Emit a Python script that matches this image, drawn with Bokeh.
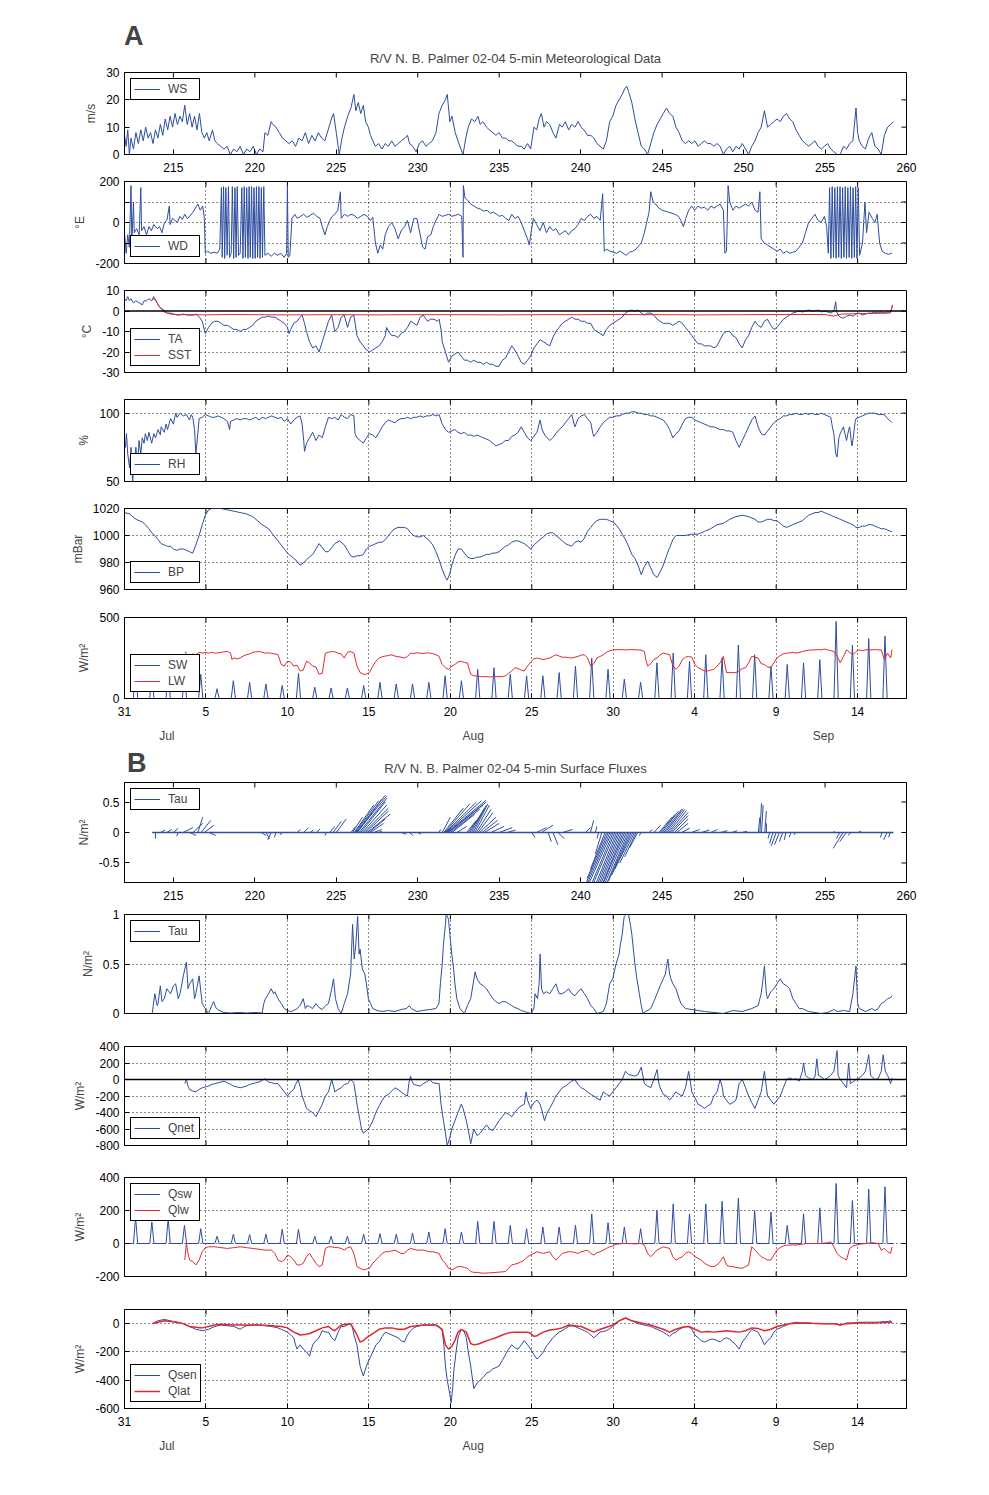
from bokeh.plotting import figure
from bokeh.layouts import column
from bokeh.models import LinearAxis, FixedTicker, Range1d, Span, Legend, LegendItem, Label
from bokeh.embed import file_html
from bokeh.resources import INLINE

FONT = "Liberation Sans"
BLUE = "#2D4D9E"
RED = "#E0292F"

# ---------------- axes / labels ----------------
X_RANGE = (212, 260)
YEARDAY_TICKS = [215, 220, 225, 230, 235, 240, 245, 250, 255, 260]
YEARDAY_LABELS = ["215", "220", "225", "230", "235", "240", "245", "250", "255", "260"]
DATE_TICKS = [212, 217, 222, 227, 232, 237, 242, 247, 252, 257]
DATE_LABELS = ["31", "5", "10", "15", "20", "25", "30", "4", "9", "14"]
MONTH_POS = [214.6, 233.4, 254.9]
MONTH_LABELS = ["Jul", "Aug", "Sep"]
TITLE_A = "R/V N. B. Palmer 02-04 5-min Meteorological Data"
TITLE_B = "R/V N. B. Palmer 02-04 5-min Surface Fluxes"

# ---------------- data (yearday, value) ----------------
WS = [(212.0, 7), (212.1, 3), (212.2, 9), (212.3, 0), (212.4, 6), (212.55, 2), (212.7, 8), (212.85, 4), (213.0, 9), (213.15, 5),
      (213.3, 10), (213.45, 6), (213.6, 8), (213.75, 4), (213.9, 9), (214.05, 6), (214.2, 11), (214.35, 7), (214.5, 13), (214.65, 9),
      (214.8, 14), (214.95, 10), (215.1, 15), (215.25, 11), (215.4, 14), (215.55, 12), (215.7, 18), (215.85, 11), (216.0, 15), (216.15, 10),
      (216.3, 14), (216.45, 9), (216.6, 15), (216.75, 8), (216.9, 6), (217.05, 8), (217.2, 5), (217.4, 9), (217.55, 5), (217.7, 4),
      (217.9, 3), (218.1, 2), (218.3, 3), (218.5, 0), (218.7, 2), (218.9, 1), (219.1, 3), (219.3, 0), (219.5, 2), (219.7, 1),
      (219.9, 3), (220.1, 0), (220.3, 2), (220.5, 1), (220.62, 8), (220.8, 7), (221.0, 12), (221.1, 11), (221.3, 10), (221.5, 8),
      (221.7, 6), (221.9, 5), (222.1, 4), (222.3, 5), (222.5, 3), (222.7, 6), (222.9, 5), (223.1, 8), (223.3, 4), (223.5, 7),
      (223.7, 5), (223.9, 8), (224.1, 6), (224.3, 5), (224.5, 9), (224.7, 13), (224.83, 15), (225.0, 8), (225.18, 0), (225.35, 6),
      (225.5, 10), (225.7, 14), (225.9, 17), (226.08, 22), (226.2, 16), (226.35, 19), (226.5, 15), (226.66, 18), (226.8, 12), (226.97, 10),
      (227.1, 7), (227.24, 5), (227.4, 3), (227.6, 4), (227.8, 2), (228.0, 4), (228.2, 3), (228.4, 5), (228.6, 3), (228.8, 4),
      (229.0, 5), (229.2, 6), (229.37, 7), (229.5, 4), (229.7, 3), (229.9, 1), (230.1, 4), (230.3, 5), (230.5, 3), (230.7, 4),
      (230.9, 5), (231.12, 8), (231.3, 15), (231.5, 18), (231.7, 20), (231.81, 22), (231.97, 12), (232.1, 14), (232.3, 8), (232.47, 5),
      (232.65, 2), (232.78, 0), (232.95, 6), (233.1, 10), (233.3, 13), (233.5, 12), (233.7, 14), (233.83, 11), (234.0, 12), (234.22, 10),
      (234.4, 9), (234.6, 8), (234.8, 7), (234.99, 8), (235.2, 6), (235.38, 6), (235.6, 5), (235.77, 5), (235.95, 4), (236.16, 3),
      (236.35, 3), (236.54, 2), (236.74, 4), (236.93, 2), (237.13, 10), (237.3, 9), (237.45, 13), (237.59, 15), (237.75, 10), (237.9, 12),
      (238.1, 11), (238.3, 8), (238.48, 6), (238.7, 11), (238.87, 10), (239.06, 12), (239.26, 9), (239.45, 11), (239.65, 10), (239.84, 12),
      (240.03, 10), (240.2, 9), (240.42, 7), (240.62, 7), (240.81, 6), (241.0, 4), (241.2, 3), (241.39, 2), (241.58, 5), (241.78, 12),
      (241.97, 14), (242.17, 18), (242.36, 20), (242.55, 22), (242.7, 24), (242.83, 25), (242.94, 23), (243.14, 19), (243.33, 13), (243.52, 8),
      (243.72, 3), (243.91, 2), (244.11, 0), (244.3, 4), (244.49, 8), (244.69, 11), (244.88, 13), (245.07, 15), (245.27, 17), (245.46, 15),
      (245.66, 14), (245.85, 10), (246.04, 8), (246.24, 5), (246.43, 4), (246.63, 5), (246.82, 4), (247.01, 5), (247.21, 3), (247.4, 4),
      (247.6, 5), (247.79, 4), (247.98, 4), (248.18, 3), (248.37, 4), (248.56, 3), (248.76, 0), (248.95, 2), (249.15, 3), (249.34, 1),
      (249.53, 3), (249.73, 2), (249.92, 4), (250.12, 2), (250.31, 0), (250.5, 3), (250.7, 5), (250.89, 8), (251.08, 10), (251.28, 16),
      (251.47, 10), (251.67, 11), (251.86, 12), (252.05, 13), (252.25, 12), (252.44, 14), (252.64, 15), (252.83, 13), (253.02, 12), (253.22, 9),
      (253.41, 7), (253.61, 5), (253.8, 4), (253.99, 3), (254.19, 4), (254.38, 5), (254.57, 3), (254.77, 2), (254.96, 3), (255.16, 4),
      (255.35, 2), (255.54, 1), (255.74, 0), (255.93, 0), (256.13, 3), (256.32, 2), (256.51, 4), (256.71, 5), (256.9, 17), (257.0, 8),
      (257.1, 5), (257.29, 3), (257.48, 2), (257.68, 6), (257.87, 8), (258.06, 3), (258.26, 2), (258.45, 0), (258.64, 7), (258.84, 10),
      (259.03, 11), (259.2, 12)]

WD = [(212.0, -50), (212.1, -150), (212.2, -60), (212.3, -120), (212.4, 180), (212.45, -100), (212.55, 100), (212.6, -50), (212.75, -30),
      (212.9, -60), (213.0, 170), (213.05, -40), (213.2, -20), (213.35, -60), (213.5, -20), (213.65, -40), (213.8, -10), (214.0, -30),
      (214.15, -20), (214.3, -50), (214.45, 0), (214.6, 10), (214.75, 80), (214.8, -10), (214.95, 20), (215.1, 10), (215.25, 0),
      (215.4, 30), (215.55, 15), (215.7, 40), (215.85, 20), (216.0, 30), (216.2, 50), (216.35, 70), (216.5, 90), (216.65, 60),
      (216.8, 80), (216.9, 20), (216.96, -150), (217.1, -140), (217.3, -150), (217.5, -145), (217.7, -150), (217.85, -130),
      (217.95, 170), (218.0, -170), (218.08, 175), (218.15, -175), (218.22, 170), (218.3, -160), (218.38, 175), (218.45, -170),
      (218.55, -150), (218.62, 175), (218.7, -175), (218.78, 170), (218.85, -170), (218.92, 175), (219.0, -160), (219.1, -150),
      (219.2, 170), (219.27, -175), (219.35, 175), (219.42, -170), (219.5, 170), (219.58, -175), (219.65, 175), (219.72, -170),
      (219.8, 175), (219.87, -175), (219.95, 170), (220.02, -175), (220.1, 175), (220.17, -170), (220.25, 175), (220.32, -175),
      (220.4, 170), (220.47, -170), (220.55, 175), (220.62, -160), (220.8, -150), (221.0, -165), (221.2, -150), (221.4, -160),
      (221.6, -150), (221.8, -170), (221.95, -150), (222.0, 180), (222.05, -170), (222.15, -160), (222.28, 20), (222.45, 40),
      (222.6, 20), (222.8, 30), (223.0, 40), (223.2, 25), (223.4, 35), (223.6, 45), (223.8, 30), (224.0, 20), (224.14, -20),
      (224.3, -60), (224.45, -20), (224.6, 10), (224.75, 30), (224.9, 40), (225.1, 60), (225.25, 150), (225.3, 20), (225.5, 40),
      (225.7, 30), (225.9, 40), (226.1, 35), (226.3, 20), (226.5, 30), (226.7, 40), (226.9, 30), (227.1, 10), (227.24, 25),
      (227.4, -100), (227.55, -150), (227.7, -110), (227.85, -130), (228.0, -60), (228.2, -20), (228.4, 0), (228.6, -30),
      (228.8, -80), (228.98, -40), (229.2, -20), (229.37, 10), (229.56, -50), (229.76, 20), (229.95, 20), (230.15, -60),
      (230.3, -120), (230.45, -130), (230.6, -70), (230.8, -60), (230.95, -20), (231.12, 10), (231.31, 40), (231.5, 30),
      (231.7, 35), (231.9, 40), (232.1, 30), (232.3, 35), (232.5, 40), (232.7, 30), (232.78, -170), (232.8, 180), (232.9, 120),
      (233.05, 110), (233.25, 90), (233.45, 80), (233.65, 70), (233.85, 65), (234.05, 55), (234.25, 60), (234.45, 45), (234.65, 50),
      (234.85, 40), (235.0, 30), (235.2, 35), (235.4, 20), (235.6, 10), (235.77, 40), (235.96, 20), (236.16, 30), (236.35, 0),
      (236.54, -40), (236.74, -80), (236.85, -110), (236.93, -60), (237.1, 20), (237.3, -10), (237.5, -40), (237.7, 0), (237.9, -50),
      (238.1, -20), (238.3, -40), (238.48, -30), (238.7, -60), (238.87, -50), (239.06, -40), (239.26, -60), (239.45, -40),
      (239.65, -30), (239.84, -10), (240.03, 20), (240.23, 10), (240.42, 30), (240.62, 40), (240.81, 20), (241.0, 30), (241.2, 10),
      (241.35, 140), (241.45, -140), (241.6, -130), (241.8, -140), (242.0, -145), (242.2, -150), (242.4, -140), (242.6, -150),
      (242.8, -160), (243.0, -145), (243.2, -140), (243.4, -130), (243.6, -110), (243.72, -100), (243.91, -50), (244.05, 0),
      (244.2, 50), (244.3, 150), (244.45, 100), (244.6, 90), (244.8, 70), (245.0, 60), (245.2, 55), (245.4, 50), (245.6, 45),
      (245.8, 40), (246.0, 30), (246.15, 10), (246.3, -20), (246.45, 20), (246.63, 60), (246.82, 80), (247.0, 60), (247.2, 80),
      (247.4, 70), (247.6, 75), (247.8, 60), (248.0, 80), (248.18, 70), (248.37, 80), (248.56, 90), (248.76, 60), (248.85, -150),
      (248.95, -140), (249.05, 180), (249.15, 100), (249.34, 60), (249.53, 80), (249.73, 70), (249.92, 80), (250.12, 90),
      (250.31, 80), (250.5, 100), (250.7, 60), (250.89, 50), (251.0, 150), (251.08, -80), (251.28, -100), (251.47, -110),
      (251.67, -120), (251.86, -130), (252.05, -140), (252.25, -130), (252.44, -150), (252.64, -140), (252.83, -150),
      (253.02, -145), (253.22, -140), (253.41, -120), (253.61, -100), (253.8, -50), (253.99, 0), (254.19, 20), (254.38, 40),
      (254.57, 10), (254.77, 0), (254.96, 30), (255.1, -20), (255.2, -150), (255.28, 170), (255.36, -175), (255.44, 175),
      (255.52, -170), (255.6, 170), (255.68, -175), (255.76, 175), (255.84, -170), (255.92, 175), (256.0, -175), (256.08, 170),
      (256.16, -170), (256.24, 175), (256.32, -175), (256.4, 170), (256.48, -170), (256.56, 175), (256.64, -175), (256.72, 170),
      (256.8, -170), (256.88, 175), (256.96, -175), (257.04, 170), (257.12, -160), (257.3, -100), (257.45, 100), (257.55, -50),
      (257.7, 50), (257.9, 20), (258.06, 0), (258.2, 40), (258.35, -100), (258.5, -140), (258.7, -150), (258.9, -155), (259.1, -150)]

TA = [(212.0, 6), (212.1, 5), (212.2, 7), (212.3, 5), (212.4, 6), (212.55, 4), (212.7, 5), (212.9, 4), (213.09, 3), (213.2, 5),
      (213.35, 5), (213.5, 6), (213.67, 5), (213.8, 7), (213.86, 6), (214.0, 4), (214.15, 2), (214.3, 1), (214.5, 0), (214.65, -1),
      (214.83, -1), (215.0, -1.5), (215.3, -2), (215.6, -1.5), (215.9, -2), (216.2, -2), (216.4, -1.5), (216.6, -3), (216.77, -5),
      (216.96, -11), (217.16, -8), (217.35, -6), (217.54, -5), (217.74, -5), (217.93, -6), (218.1, -7), (218.32, -7), (218.51, -8),
      (218.71, -9), (218.9, -9), (219.1, -10), (219.29, -9), (219.48, -9), (219.68, -8), (219.87, -7), (220.06, -5), (220.26, -4),
      (220.45, -3), (220.65, -3), (220.84, -2.5), (221.03, -3), (221.23, -3), (221.42, -4), (221.62, -5), (221.81, -6), (222.0, -8),
      (222.1, -11), (222.2, -9), (222.39, -6), (222.59, -5), (222.78, -3), (222.9, -2), (223.05, -6), (223.17, -10), (223.36, -15),
      (223.55, -18), (223.75, -17), (223.94, -20), (224.14, -15), (224.33, -10), (224.52, -5), (224.72, -2), (224.91, -10),
      (225.11, -8), (225.3, -3), (225.49, -2), (225.69, -8), (225.88, -3), (226.08, -2), (226.27, -12), (226.46, -15), (226.66, -17),
      (226.85, -19), (227.04, -20), (227.24, -19), (227.43, -18), (227.63, -17), (227.82, -15), (228.01, -12), (228.09, -8),
      (228.21, -10), (228.4, -12), (228.6, -12), (228.79, -13), (228.98, -11), (229.18, -10), (229.37, -8), (229.56, -5),
      (229.76, -6), (229.95, -7), (230.15, -3), (230.34, -2), (230.42, -3), (230.6, -5), (230.8, -4), (231.0, -4), (231.2, -5),
      (231.31, -4), (231.45, -10), (231.5, -15), (231.7, -20), (231.89, -25), (232.09, -22), (232.28, -21), (232.47, -20),
      (232.67, -22), (232.86, -24), (233.05, -24), (233.25, -25), (233.44, -24), (233.64, -25), (233.83, -25), (234.02, -26),
      (234.22, -25), (234.41, -26), (234.61, -26), (234.8, -27), (234.99, -27), (235.19, -24), (235.38, -23), (235.57, -20),
      (235.77, -17), (235.96, -19), (236.16, -22), (236.35, -25), (236.54, -26), (236.74, -24), (236.93, -22), (237.13, -18),
      (237.32, -16), (237.51, -14), (237.71, -15), (237.9, -16), (238.1, -17), (238.29, -13), (238.48, -10), (238.68, -8),
      (238.87, -6), (239.06, -5), (239.26, -4), (239.45, -3), (239.65, -4), (239.84, -4), (240.03, -5), (240.23, -5), (240.42, -6),
      (240.62, -6), (240.81, -9), (241.0, -10), (241.2, -11), (241.39, -12), (241.58, -9), (241.78, -7), (241.97, -6), (242.17, -5),
      (242.36, -4), (242.55, -3), (242.75, -1), (242.94, 0), (243.14, 0.5), (243.33, 0), (243.52, 0.5), (243.72, -1), (243.91, -2),
      (244.11, -1), (244.3, -1), (244.49, -2), (244.69, -4), (244.88, -5), (245.07, -6), (245.27, -6), (245.46, -6), (245.66, -7),
      (245.85, -6), (246.04, -5), (246.24, -6), (246.43, -8), (246.63, -10), (246.82, -12), (247.01, -14), (247.21, -16),
      (247.4, -16), (247.6, -17), (247.79, -17), (247.98, -17), (248.18, -18), (248.37, -17), (248.56, -14), (248.76, -11),
      (248.95, -10), (249.15, -10), (249.34, -12), (249.53, -13), (249.73, -16), (249.92, -18), (250.12, -14), (250.31, -12),
      (250.5, -8), (250.7, -5), (250.89, -7), (251.08, -8), (251.28, -5), (251.47, -4), (251.67, -7), (251.86, -9), (252.05, -8),
      (252.25, -6), (252.44, -4), (252.64, -3), (252.83, -2), (253.02, -1), (253.22, -0.5), (253.41, 0), (253.61, -0.5), (253.8, 0),
      (253.99, 0.5), (254.19, 0), (254.38, 0), (254.57, 0.5), (254.77, -0.5), (254.96, 0), (255.16, -0.5), (255.35, -1), (255.54, 0),
      (255.66, 4.5), (255.7, 0), (255.8, -2), (255.93, -3), (256.13, -3.5), (256.32, -2.5), (256.51, -2), (256.71, -2.5),
      (256.9, -1.5), (257.1, -1), (257.29, -2), (257.48, -1.5), (257.68, -1), (257.87, -1), (258.06, -0.5), (258.26, -1),
      (258.45, -0.5), (258.64, -1), (258.84, -0.5), (259.03, -0.5), (259.15, 3)]

SST = [(213.7, 6), (213.9, 5.5), (214.06, 3), (214.25, 1), (214.44, -0.5), (214.64, -1.2), (214.83, -1.5), (215.2, -1.8),
       (216.0, -1.8), (217.0, -1.9), (218.5, -1.7), (220.0, -1.8), (222.0, -1.9), (225.0, -1.8), (227.5, -1.9), (230.0, -1.8),
       (232.5, -1.8), (235.0, -1.9), (237.5, -1.8), (240.0, -1.8), (242.5, -1.7), (245.0, -1.8), (247.5, -1.9), (250.0, -1.8),
       (253.0, -1.7), (255.0, -1.7), (255.5, -2.5), (256.0, -1.5), (257.0, -1.3), (258.0, -1.2), (259.0, -1.0), (259.15, 3)]

RH = [(212.0, 80), (212.06, 75), (212.12, 85), (212.2, 70), (212.31, 60), (212.4, 75), (212.5, 50), (212.6, 65), (212.7, 75),
      (212.8, 60), (212.89, 80), (213.0, 70), (213.09, 82), (213.2, 78), (213.28, 85), (213.4, 80), (213.5, 86), (213.67, 78),
      (213.8, 85), (213.9, 82), (214.06, 88), (214.2, 84), (214.25, 90), (214.44, 86), (214.55, 92), (214.64, 88), (214.83, 96),
      (215.0, 92), (215.14, 100), (215.22, 97), (215.41, 100), (215.61, 98), (215.8, 99), (215.99, 95), (216.1, 99), (216.19, 97),
      (216.3, 88), (216.38, 70), (216.5, 85), (216.58, 96), (216.77, 97), (216.96, 99), (217.16, 98), (217.35, 97), (217.54, 97),
      (217.74, 98), (217.93, 97), (218.1, 96), (218.32, 94), (218.45, 88), (218.51, 94), (218.71, 95), (218.9, 96), (219.1, 95),
      (219.29, 96), (219.48, 96), (219.68, 95), (219.87, 96), (220.06, 97), (220.26, 95), (220.45, 97), (220.65, 96), (220.84, 97),
      (221.03, 98), (221.23, 97), (221.42, 96), (221.62, 97), (221.81, 94), (222.0, 96), (222.2, 92), (222.39, 95), (222.59, 97),
      (222.78, 98), (222.9, 92), (223.0, 80), (223.05, 72), (223.17, 78), (223.36, 82), (223.55, 86), (223.75, 80), (223.94, 84),
      (224.14, 82), (224.33, 90), (224.52, 97), (224.72, 96), (224.91, 97), (225.11, 95), (225.3, 99), (225.49, 97), (225.69, 96),
      (225.88, 99), (226.08, 98), (226.15, 85), (226.27, 82), (226.46, 80), (226.66, 78), (226.85, 82), (227.04, 85), (227.24, 84),
      (227.43, 82), (227.63, 86), (227.82, 90), (228.01, 93), (228.21, 95), (228.4, 94), (228.6, 93), (228.79, 95), (228.98, 96),
      (229.18, 96), (229.37, 97), (229.56, 96), (229.76, 97), (229.95, 97), (230.15, 98), (230.34, 97), (230.53, 98), (230.73, 98),
      (230.92, 99), (231.12, 98), (231.31, 99), (231.5, 92), (231.7, 88), (231.89, 86), (232.09, 87), (232.28, 88), (232.47, 86),
      (232.67, 85), (232.86, 86), (233.05, 84), (233.25, 84), (233.44, 83), (233.64, 84), (233.83, 83), (234.02, 82), (234.22, 81),
      (234.41, 80), (234.61, 78), (234.8, 76), (234.99, 77), (235.19, 78), (235.38, 80), (235.57, 80), (235.77, 83), (235.96, 84),
      (236.16, 86), (236.35, 90), (236.54, 86), (236.74, 82), (236.93, 80), (237.13, 83), (237.32, 86), (237.51, 95), (237.63, 88),
      (237.8, 84), (238.1, 80), (238.29, 82), (238.48, 85), (238.68, 88), (238.87, 90), (239.06, 93), (239.26, 96), (239.45, 99),
      (239.6, 92), (239.65, 90), (239.84, 96), (240.03, 98), (240.23, 99), (240.42, 96), (240.62, 93), (240.75, 85), (240.81, 83),
      (241.0, 86), (241.2, 90), (241.39, 93), (241.58, 95), (241.78, 97), (241.97, 97), (242.17, 98), (242.36, 98), (242.55, 99),
      (242.75, 100), (242.94, 100), (243.14, 101), (243.33, 101), (243.52, 100), (243.72, 100), (243.91, 99), (244.11, 99),
      (244.3, 98), (244.49, 98), (244.69, 97), (244.88, 96), (245.07, 95), (245.27, 92), (245.46, 88), (245.66, 82), (245.85, 85),
      (246.04, 87), (246.24, 92), (246.43, 96), (246.63, 97), (246.82, 97), (247.01, 95), (247.21, 94), (247.4, 93), (247.6, 92),
      (247.79, 91), (247.98, 90), (248.18, 90), (248.37, 89), (248.56, 88), (248.76, 88), (248.95, 87), (249.15, 87), (249.34, 86),
      (249.53, 80), (249.73, 75), (249.92, 80), (250.12, 85), (250.31, 90), (250.5, 95), (250.7, 98), (250.89, 90), (251.08, 85),
      (251.28, 84), (251.47, 87), (251.67, 90), (251.86, 93), (252.05, 95), (252.25, 96), (252.44, 98), (252.64, 98), (252.83, 99),
      (253.02, 99), (253.22, 100), (253.41, 99), (253.61, 99), (253.8, 100), (253.99, 99), (254.19, 100), (254.38, 99), (254.57, 99),
      (254.77, 100), (254.96, 99), (255.16, 98), (255.35, 97), (255.45, 90), (255.54, 85), (255.66, 70), (255.74, 68), (255.85, 82),
      (255.93, 85), (256.13, 90), (256.32, 80), (256.45, 88), (256.51, 90), (256.65, 76), (256.71, 80), (256.85, 94), (256.9, 96),
      (257.1, 97), (257.29, 98), (257.48, 99), (257.68, 100), (257.87, 100), (258.06, 100), (258.26, 99), (258.45, 99), (258.64, 99),
      (258.84, 96), (259.03, 94), (259.11, 93)]

BP = [(212.0, 1017), (212.31, 1016), (212.7, 1012), (213.09, 1010), (213.28, 1008), (213.5, 1005), (213.67, 1002), (213.86, 1000),
      (214.06, 997), (214.25, 994), (214.44, 993), (214.64, 992), (214.83, 992), (215.0, 990), (215.22, 989), (215.41, 990),
      (215.61, 990), (215.8, 989), (215.99, 988), (216.19, 987), (216.38, 993), (216.58, 1000), (216.77, 1008), (216.96, 1015),
      (217.16, 1019), (217.35, 1020), (217.54, 1020), (217.93, 1020), (218.32, 1019), (218.71, 1018), (219.1, 1017), (219.48, 1016),
      (219.87, 1014), (220.26, 1010), (220.45, 1008), (220.84, 1005), (221.03, 1002), (221.42, 996), (221.81, 990), (222.0, 987),
      (222.39, 983), (222.59, 981), (222.78, 978), (223.0, 980), (223.17, 982), (223.36, 984), (223.55, 986), (223.75, 990),
      (223.94, 994), (224.14, 991), (224.33, 988), (224.52, 988), (224.72, 991), (224.91, 994), (225.18, 996), (225.3, 995),
      (225.49, 993), (225.69, 989), (225.88, 985), (226.08, 984), (226.27, 985), (226.46, 985), (226.66, 986), (226.85, 990),
      (227.04, 992), (227.24, 993), (227.43, 994), (227.63, 995), (227.82, 995), (228.01, 997), (228.21, 1000), (228.4, 1003),
      (228.6, 1005), (228.79, 1006), (228.98, 1006), (229.18, 1006), (229.37, 1005), (229.56, 1002), (229.76, 1000), (229.95, 999),
      (230.15, 999), (230.34, 1000), (230.53, 998), (230.73, 996), (230.92, 993), (231.12, 988), (231.31, 982), (231.5, 975),
      (231.7, 969), (231.81, 967), (231.97, 972), (232.09, 978), (232.28, 985), (232.47, 990), (232.67, 990), (232.86, 987),
      (233.05, 984), (233.25, 983), (233.44, 983), (233.64, 984), (233.83, 984), (234.02, 985), (234.22, 986), (234.41, 986),
      (234.61, 987), (234.8, 987), (234.99, 988), (235.19, 990), (235.38, 992), (235.57, 993), (235.77, 995), (235.96, 996),
      (236.16, 996), (236.35, 995), (236.54, 994), (236.74, 992), (236.93, 990), (237.13, 993), (237.32, 995), (237.51, 997),
      (237.71, 999), (237.9, 1001), (238.1, 1002), (238.29, 1002), (238.48, 1000), (238.68, 998), (238.87, 996), (239.06, 994),
      (239.26, 993), (239.45, 992), (239.65, 995), (239.84, 996), (240.03, 995), (240.23, 998), (240.42, 1003), (240.62, 1006),
      (240.81, 1009), (241.0, 1011), (241.2, 1012), (241.39, 1012), (241.58, 1012), (241.78, 1011), (241.97, 1010), (242.17, 1008),
      (242.36, 1005), (242.55, 1001), (242.75, 997), (242.94, 992), (243.14, 986), (243.33, 983), (243.52, 978), (243.72, 971),
      (243.91, 977), (244.11, 981), (244.3, 976), (244.49, 971), (244.69, 969), (244.88, 973), (245.07, 978), (245.27, 985),
      (245.46, 991), (245.66, 997), (245.85, 1000), (246.04, 1000), (246.43, 1000), (246.82, 1001), (247.21, 1001), (247.6, 1003),
      (247.98, 1005), (248.37, 1008), (248.76, 1009), (249.15, 1012), (249.53, 1014), (249.92, 1015), (250.31, 1014), (250.5, 1013),
      (250.7, 1012), (250.89, 1010), (251.08, 1010), (251.28, 1011), (251.47, 1012), (251.67, 1012), (251.86, 1011), (252.05, 1011),
      (252.25, 1009), (252.44, 1007), (252.64, 1006), (252.83, 1007), (253.02, 1008), (253.22, 1009), (253.41, 1010), (253.61, 1011),
      (253.8, 1013), (253.99, 1015), (254.19, 1016), (254.38, 1017), (254.57, 1017), (254.77, 1018), (254.96, 1017), (255.16, 1016),
      (255.35, 1015), (255.54, 1014), (255.74, 1013), (255.93, 1012), (256.13, 1011), (256.32, 1010), (256.51, 1009), (256.71, 1008),
      (256.9, 1006), (257.1, 1006), (257.29, 1007), (257.48, 1007), (257.68, 1008), (257.87, 1008), (258.06, 1007), (258.26, 1006),
      (258.45, 1005), (258.64, 1005), (258.84, 1004), (259.03, 1003), (259.11, 1003)]

# daily shortwave maxima (day of year, peak value) and their local-noon offset
SW_DAYS = list(range(212, 259))
SW_PEAK = [270, 175, 200, 150, 150, 60, 110, 100, 90, 80, 155, 70, 65, 65, 80, 100, 90, 90, 100, 140, 110, 180, 190, 150,
           140, 140, 160, 200, 250, 180, 120, 100, 220, 280, 230, 270, 250, 330, 270, 200, 210, 220, 240, 475, 330, 370, 385]
QSW_PEAK = [160, 130, 150, 110, 90, 44, 56, 54, 56, 86, 86, 44, 44, 44, 56, 60, 56, 64, 70, 90, 70, 134, 134, 110,
            90, 100, 100, 110, 180, 126, 100, 90, 200, 240, 180, 240, 256, 276, 200, 190, 110, 180, 216, 364, 260, 330, 344]
NOON = 0.68

LW = [(215.75, 290), (215.85, 240), (216.0, 260), (216.19, 275), (216.38, 270), (216.58, 285), (216.77, 280), (216.96, 285),
      (217.16, 280), (217.35, 285), (217.54, 280), (217.74, 282), (217.93, 285), (218.1, 288), (218.32, 290), (218.51, 280),
      (218.6, 240), (218.71, 250), (218.9, 245), (219.1, 250), (219.29, 262), (219.48, 270), (219.68, 275), (219.87, 285),
      (220.06, 288), (220.26, 290), (220.45, 285), (220.65, 280), (220.84, 282), (221.03, 278), (221.23, 275), (221.42, 272),
      (221.62, 210), (221.81, 200), (222.0, 230), (222.2, 225), (222.39, 200), (222.59, 205), (222.78, 170), (222.97, 175),
      (223.17, 230), (223.36, 220), (223.55, 200), (223.75, 195), (223.94, 150), (224.14, 155), (224.33, 280), (224.52, 285),
      (224.72, 290), (224.91, 288), (225.11, 280), (225.3, 275), (225.49, 250), (225.69, 285), (225.88, 290), (226.08, 280),
      (226.27, 200), (226.46, 160), (226.66, 150), (226.85, 150), (227.04, 160), (227.24, 200), (227.43, 230), (227.63, 250),
      (227.82, 258), (228.01, 262), (228.21, 265), (228.4, 270), (228.6, 262), (228.79, 258), (228.98, 255), (229.18, 250),
      (229.37, 260), (229.56, 280), (229.76, 278), (229.95, 282), (230.15, 280), (230.34, 278), (230.53, 282), (230.73, 280),
      (230.92, 278), (231.12, 270), (231.31, 260), (231.5, 210), (231.7, 190), (231.89, 180), (232.09, 200), (232.28, 210),
      (232.47, 225), (232.67, 230), (232.86, 222), (233.05, 220), (233.25, 150), (233.44, 140), (233.64, 140), (233.83, 135),
      (234.02, 135), (234.22, 135), (234.41, 133), (234.61, 135), (234.8, 135), (234.99, 135), (235.19, 135), (235.38, 140),
      (235.57, 155), (235.77, 170), (235.96, 190), (236.16, 185), (236.35, 175), (236.54, 170), (236.74, 200), (236.93, 225),
      (237.13, 245), (237.32, 250), (237.51, 245), (237.71, 240), (237.9, 245), (238.1, 250), (238.29, 260), (238.48, 270),
      (238.68, 262), (238.87, 255), (239.06, 255), (239.26, 252), (239.45, 250), (239.65, 255), (239.84, 260), (240.03, 268),
      (240.23, 270), (240.42, 250), (240.62, 200), (240.81, 215), (241.0, 250), (241.2, 260), (241.39, 270), (241.58, 285),
      (241.78, 295), (241.97, 300), (242.36, 302), (242.75, 300), (243.14, 302), (243.52, 300), (243.72, 298), (243.91, 290),
      (244.0, 240), (244.11, 200), (244.3, 215), (244.49, 240), (244.69, 250), (244.88, 270), (245.07, 280), (245.27, 275),
      (245.46, 270), (245.66, 200), (245.85, 180), (246.04, 200), (246.24, 240), (246.43, 255), (246.63, 260), (246.82, 255),
      (247.01, 210), (247.21, 190), (247.4, 180), (247.6, 170), (247.79, 170), (247.98, 175), (248.18, 180), (248.37, 200),
      (248.56, 220), (248.76, 260), (248.95, 160), (249.15, 160), (249.34, 160), (249.53, 160), (249.73, 170), (249.92, 185),
      (250.12, 190), (250.31, 220), (250.5, 260), (250.7, 255), (250.89, 250), (251.08, 215), (251.28, 210), (251.47, 195),
      (251.67, 190), (251.86, 220), (252.05, 250), (252.25, 265), (252.44, 275), (252.64, 280), (252.83, 282), (253.02, 285),
      (253.22, 280), (253.41, 285), (253.61, 290), (253.8, 295), (253.99, 298), (254.19, 300), (254.38, 300), (254.57, 302),
      (254.77, 300), (254.96, 305), (255.16, 300), (255.35, 295), (255.54, 290), (255.74, 260), (255.93, 220), (256.13, 260),
      (256.32, 300), (256.51, 285), (256.71, 270), (256.9, 290), (257.1, 300), (257.29, 295), (257.48, 300), (257.68, 302),
      (257.87, 300), (258.06, 302), (258.26, 300), (258.45, 300), (258.64, 240), (258.84, 280), (259.03, 250), (259.11, 300)]

# wind-stress sticks: (base day, tip day, tip value N/m2)
STICKS = [(213.7, 213.7, 0.0), (213.9, 213.9, -0.10), (214.2, 214.5, 0.04), (214.6, 214.9, 0.05), (215.0, 215.3, 0.07),
          (215.3, 215.2, -0.06), (215.6, 216.2, 0.08), (216.0, 216.4, -0.05), (216.2, 216.8, 0.15), (216.5, 216.8, 0.25),
          (216.7, 217.3, 0.20), (216.9, 217.5, 0.12), (217.2, 217.6, -0.05), (220.4, 220.7, -0.05), (220.7, 220.9, -0.10),
          (221.0, 220.8, -0.12), (221.3, 221.2, -0.08), (221.6, 221.6, -0.04), (222.6, 222.8, 0.05), (223.0, 223.3, 0.08),
          (223.4, 223.6, 0.04), (223.8, 224.0, 0.06), (224.4, 224.3, -0.05), (224.6, 224.9, 0.10), (224.8, 225.3, 0.18),
          (225.0, 225.6, 0.22), (225.9, 226.2, 0.10), (226.0, 226.6, 0.25), (226.1, 227.3, 0.45), (226.15, 227.6, 0.52),
          (226.2, 228.0, 0.61), (226.25, 228.1, 0.60), (226.3, 227.8, 0.55), (226.4, 228.1, 0.56), (226.5, 228.0, 0.50),
          (226.6, 228.1, 0.45), (226.7, 228.2, 0.40), (226.8, 228.2, 0.35), (226.9, 228.3, 0.30), (227.0, 228.0, 0.22),
          (227.1, 227.9, 0.15), (227.3, 227.8, 0.05), (227.6, 227.8, 0.02), (229.0, 229.3, -0.03), (229.5, 229.7, -0.05),
          (230.0, 230.2, -0.03), (231.3, 231.4, 0.05), (231.5, 232.0, 0.25), (231.6, 232.8, 0.40), (231.65, 233.2, 0.47),
          (231.7, 233.6, 0.50), (231.75, 233.9, 0.52), (231.8, 234.2, 0.53), (231.85, 234.2, 0.50), (231.9, 234.0, 0.45),
          (232.0, 233.8, 0.38), (232.1, 233.5, 0.30), (232.4, 233.0, 0.10), (233.0, 233.6, 0.20), (233.1, 233.9, 0.30),
          (233.2, 234.1, 0.40), (233.3, 234.2, 0.44), (233.4, 234.3, 0.47), (233.5, 234.4, 0.45), (233.6, 234.5, 0.38),
          (233.7, 234.6, 0.32), (233.8, 234.8, 0.25), (233.95, 234.9, 0.20), (234.1, 235.0, 0.15), (234.5, 235.3, 0.10),
          (235.0, 235.8, 0.08), (235.5, 236.0, 0.04), (237.0, 237.2, -0.08), (237.3, 237.9, 0.08), (237.6, 238.3, 0.12),
          (238.0, 238.2, -0.15), (238.3, 238.6, -0.20), (238.6, 239.0, -0.10), (238.9, 239.5, 0.05), (240.3, 240.6, 0.08),
          (240.6, 240.8, 0.20), (240.9, 241.0, 0.10), (241.1, 241.0, -0.10), (241.3, 240.9, -0.35), (241.5, 240.6, -0.60),
          (241.6, 240.4, -0.75), (241.7, 240.3, -0.85), (241.8, 240.3, -0.90), (241.9, 240.4, -0.90), (242.0, 240.5, -0.95),
          (242.1, 240.6, -0.95), (242.2, 240.7, -1.0), (242.3, 240.8, -1.0), (242.4, 240.9, -1.0), (242.5, 241.0, -1.0),
          (242.6, 241.1, -1.0), (242.7, 241.2, -0.95), (242.8, 241.3, -0.95), (242.9, 241.5, -0.90), (243.0, 241.7, -0.80),
          (243.1, 241.9, -0.70), (243.2, 242.1, -0.60), (243.3, 242.4, -0.50), (243.4, 242.7, -0.40), (243.5, 243.0, -0.25),
          (243.7, 243.6, -0.05), (244.2, 244.4, 0.05), (244.5, 244.9, 0.12), (244.8, 245.6, 0.25), (244.9, 245.8, 0.30),
          (245.0, 246.0, 0.35), (245.1, 246.2, 0.38), (245.2, 246.3, 0.39), (245.3, 246.4, 0.38), (245.4, 246.5, 0.36),
          (245.5, 246.6, 0.33), (245.6, 246.6, 0.28), (245.75, 246.6, 0.22), (245.9, 246.6, 0.15), (246.2, 246.7, 0.07),
          (246.8, 247.3, 0.05), (247.4, 247.9, 0.04), (248.0, 248.4, 0.05), (248.6, 249.0, 0.03), (249.3, 249.6, 0.03),
          (249.9, 250.2, 0.02), (250.9, 251.0, 0.25), (251.0, 251.1, 0.48), (251.1, 251.2, 0.45), (251.3, 251.4, 0.35),
          (251.4, 251.4, 0.15), (251.6, 251.5, -0.10), (251.8, 251.6, -0.18), (252.0, 251.7, -0.22), (252.2, 251.9, -0.20),
          (252.4, 252.2, -0.15), (252.6, 252.5, -0.12), (252.9, 252.8, -0.08), (253.2, 253.1, -0.04), (255.5, 255.6, 0.02),
          (255.9, 255.7, -0.10), (256.1, 255.5, -0.26), (256.3, 255.9, -0.15), (256.6, 256.4, -0.05), (257.0, 257.2, 0.02),
          (258.5, 258.4, -0.08), (258.8, 258.6, -0.12), (259.0, 258.9, -0.08), (259.2, 259.2, 0.0)]

TAU = [(213.7, 0), (213.86, 0.2), (214.0, 0.08), (214.06, 0.1), (214.2, 0.28), (214.3, 0.12), (214.44, 0.15), (214.6, 0.25),
       (214.83, 0.2), (215.0, 0.28), (215.14, 0.3), (215.3, 0.15), (215.41, 0.2), (215.61, 0.38), (215.8, 0.52), (215.9, 0.25),
       (216.0, 0.3), (216.19, 0.35), (216.3, 0.15), (216.38, 0.2), (216.58, 0.38), (216.7, 0.2), (216.77, 0.1), (216.96, 0.05),
       (217.16, 0.0), (217.35, 0.08), (217.47, 0.12), (217.6, 0.06), (217.74, 0.04), (217.93, 0.02), (218.1, 0.01), (218.5, 0.005),
       (219.0, 0.01), (219.5, 0.005), (220.0, 0.01), (220.45, 0.005), (220.55, 0.1), (220.65, 0.15), (220.84, 0.2), (221.0, 0.25),
       (221.15, 0.2), (221.23, 0.22), (221.42, 0.15), (221.62, 0.1), (221.81, 0.05), (222.0, 0.03), (222.2, 0.02), (222.39, 0.03),
       (222.59, 0.05), (222.78, 0.08), (222.97, 0.15), (223.1, 0.05), (223.2, 0.08), (223.36, 0.07), (223.55, 0.05), (223.75, 0.1),
       (223.94, 0.06), (224.14, 0.04), (224.33, 0.08), (224.52, 0.1), (224.72, 0.25), (224.83, 0.35), (224.95, 0.15), (225.11, 0.05),
       (225.3, 0.0), (225.49, 0.1), (225.69, 0.2), (225.88, 0.4), (226.0, 0.9), (226.1, 0.55), (226.2, 0.7), (226.31, 0.98),
       (226.4, 0.6), (226.46, 0.65), (226.6, 0.45), (226.75, 0.4), (226.85, 0.3), (226.97, 0.15), (227.1, 0.1), (227.24, 0.05),
       (227.5, 0.03), (227.82, 0.02), (228.2, 0.03), (228.6, 0.02), (228.98, 0.04), (229.3, 0.05), (229.49, 0.08), (229.6, 0.05),
       (229.95, 0.02), (230.3, 0.03), (230.73, 0.04), (231.12, 0.05), (231.3, 0.1), (231.39, 0.3), (231.5, 0.5), (231.58, 0.7),
       (231.7, 0.9), (231.74, 1.0), (231.82, 0.98), (231.89, 0.95), (231.97, 0.8), (232.09, 0.6), (232.2, 0.45), (232.28, 0.3),
       (232.4, 0.15), (232.59, 0.05), (232.86, 0.0), (233.05, 0.08), (233.25, 0.15), (233.4, 0.3), (233.52, 0.42), (233.64, 0.35),
       (233.83, 0.3), (234.02, 0.28), (234.22, 0.25), (234.41, 0.2), (234.61, 0.15), (234.8, 0.12), (234.99, 0.1), (235.19, 0.12),
       (235.38, 0.12), (235.57, 0.1), (235.77, 0.08), (235.96, 0.06), (236.16, 0.05), (236.35, 0.03), (236.54, 0.02), (236.74, 0.01),
       (236.93, 0.0), (237.13, 0.05), (237.2, 0.2), (237.35, 0.15), (237.45, 0.3), (237.51, 0.6), (237.6, 0.25), (237.71, 0.2),
       (237.9, 0.22), (238.1, 0.2), (238.29, 0.25), (238.48, 0.3), (238.68, 0.2), (238.87, 0.2), (239.06, 0.22), (239.26, 0.25),
       (239.45, 0.2), (239.65, 0.18), (239.84, 0.22), (240.03, 0.25), (240.23, 0.2), (240.42, 0.15), (240.62, 0.08), (240.81, 0.05),
       (241.0, 0.0), (241.2, 0.01), (241.39, 0.02), (241.58, 0.1), (241.78, 0.3), (241.97, 0.35), (242.17, 0.5), (242.36, 0.6),
       (242.44, 0.7), (242.55, 0.8), (242.67, 0.98), (242.8, 1.0), (242.94, 1.0), (243.05, 0.9), (243.14, 0.8), (243.33, 0.5),
       (243.45, 0.35), (243.6, 0.2), (243.72, 0.08), (243.83, 0.0), (244.0, 0.02), (244.3, 0.05), (244.49, 0.12), (244.69, 0.2),
       (244.88, 0.28), (245.07, 0.35), (245.2, 0.4), (245.35, 0.55), (245.46, 0.4), (245.54, 0.35), (245.66, 0.3), (245.85, 0.25),
       (246.04, 0.15), (246.16, 0.1), (246.43, 0.05), (246.82, 0.04), (247.2, 0.03), (247.6, 0.02), (248.18, 0.01), (248.76, 0.0),
       (249.34, 0.03), (249.92, 0.02), (250.5, 0.05), (250.89, 0.08), (251.08, 0.2), (251.16, 0.3), (251.28, 0.48), (251.4, 0.2),
       (251.47, 0.15), (251.67, 0.22), (251.86, 0.25), (252.05, 0.3), (252.25, 0.35), (252.44, 0.3), (252.64, 0.28), (252.83, 0.25),
       (253.02, 0.15), (253.22, 0.1), (253.41, 0.05), (253.61, 0.05), (253.99, 0.02), (254.38, 0.01), (254.77, 0.0), (255.16, 0.01),
       (255.54, 0.04), (255.74, 0.02), (256.13, 0.03), (256.51, 0.02), (256.71, 0.2), (256.9, 0.48), (257.0, 0.1), (257.1, 0.05),
       (257.48, 0.02), (257.87, 0.05), (258.06, 0.03), (258.26, 0.05), (258.45, 0.1), (258.64, 0.12), (258.84, 0.15), (259.03, 0.16),
       (259.11, 0.18)]

QNET = [(215.7, -50), (215.8, 0), (215.9, -80), (215.99, -120), (216.19, -140), (216.38, -150), (216.58, -120), (216.77, -100),
        (216.96, -90), (217.16, -80), (217.35, -60), (217.54, -50), (217.74, -40), (217.93, -30), (218.1, -20), (218.32, -40),
        (218.51, -60), (218.71, -80), (218.9, -90), (219.1, -100), (219.29, -90), (219.48, -80), (219.68, -60), (219.87, -50),
        (220.06, -40), (220.26, -30), (220.45, -10), (220.6, 10), (220.84, -30), (221.03, -40), (221.23, -50), (221.42, -50),
        (221.62, -100), (221.81, -150), (222.0, -200), (222.2, -150), (222.39, -120), (222.5, -60), (222.66, 0), (222.8, -100),
        (222.9, -200), (223.05, -280), (223.17, -350), (223.36, -380), (223.55, -400), (223.75, -450), (223.94, -380), (224.14, -300),
        (224.33, -200), (224.52, -150), (224.72, 0), (224.85, -100), (224.91, -150), (225.11, -120), (225.3, -100), (225.49, -60),
        (225.69, -50), (225.88, 0), (226.0, -20), (226.08, -50), (226.2, -200), (226.27, -300), (226.46, -500), (226.55, -600),
        (226.66, -650), (226.85, -620), (227.04, -580), (227.24, -500), (227.43, -400), (227.63, -320), (227.82, -250), (228.01, -200),
        (228.21, -180), (228.4, -140), (228.6, -100), (228.79, -120), (228.98, -150), (229.18, -180), (229.37, -200), (229.45, -50),
        (229.56, 40), (229.65, -20), (229.76, -60), (229.95, -70), (230.15, -80), (230.34, -50), (230.53, -30), (230.73, 0),
        (230.92, -40), (231.12, -45), (231.31, -50), (231.43, -300), (231.58, -500), (231.7, -650), (231.81, -800), (231.97, -700),
        (232.09, -600), (232.28, -500), (232.47, -400), (232.67, -300), (232.78, -350), (232.98, -500), (233.14, -650), (233.25, -780),
        (233.44, -600), (233.64, -680), (233.83, -650), (234.02, -600), (234.22, -550), (234.41, -600), (234.61, -620), (234.8, -560),
        (234.99, -500), (235.19, -450), (235.38, -400), (235.57, -420), (235.77, -450), (235.96, -400), (236.16, -350), (236.35, -320),
        (236.54, -300), (236.65, -150), (236.74, -250), (236.93, -350), (237.13, -280), (237.32, -250), (237.51, -300), (237.63, -380),
        (237.78, -500), (237.9, -420), (238.1, -350), (238.29, -280), (238.48, -200), (238.68, -150), (238.87, -100), (239.06, -80),
        (239.26, -50), (239.45, -20), (239.65, 0), (239.84, -60), (240.03, -100), (240.23, -120), (240.42, -150), (240.62, -180),
        (240.81, -200), (241.0, -230), (241.2, -250), (241.39, -150), (241.58, -180), (241.78, -200), (241.97, -150), (242.17, -100),
        (242.36, -50), (242.55, 0), (242.75, 100), (242.94, 60), (243.14, 50), (243.33, 40), (243.52, 60), (243.72, 150), (243.91, -50),
        (244.11, -80), (244.3, -100), (244.49, 0), (244.69, 120), (244.8, -50), (244.88, -100), (245.07, -180), (245.27, -200),
        (245.46, -250), (245.66, -200), (245.85, -150), (246.04, -180), (246.24, -200), (246.43, -100), (246.63, 100), (246.75, -50),
        (246.82, -150), (247.01, -220), (247.21, -300), (247.4, -320), (247.6, -350), (247.79, -320), (247.98, -300), (248.18, -200),
        (248.37, -150), (248.56, 0), (248.7, -100), (248.76, -200), (248.95, -250), (249.15, -300), (249.34, -280), (249.53, -250),
        (249.73, -50), (249.92, 0), (250.12, -100), (250.31, -200), (250.5, -280), (250.7, -350), (250.89, -250), (251.08, -150),
        (251.28, 100), (251.4, -100), (251.47, -200), (251.67, -250), (251.86, -300), (252.05, -250), (252.25, -200), (252.44, -100),
        (252.64, 0), (252.83, 20), (253.02, 0), (253.22, 10), (253.41, -20), (253.61, 100), (253.68, 200), (253.8, 50), (253.99, 20),
        (254.19, 0), (254.38, 30), (254.5, 250), (254.6, 50), (254.77, 30), (254.96, 0), (255.16, 20), (255.35, 50), (255.54, 100),
        (255.74, 350), (255.8, 50), (255.93, 0), (256.13, -50), (256.32, -100), (256.45, 200), (256.55, -50), (256.71, -30),
        (256.9, 0), (257.1, 20), (257.29, 50), (257.48, 100), (257.68, 300), (257.8, 50), (257.95, 20), (258.06, 0), (258.26, 10),
        (258.45, 100), (258.57, 300), (258.7, 100), (258.84, 50), (259.03, -50), (259.11, 20)]

QLW = [(215.7, -100), (215.8, 0), (215.9, -60), (216.0, -100), (216.19, -110), (216.38, -130), (216.58, -100), (216.77, -50),
       (216.96, -25), (217.16, -20), (217.54, -20), (217.93, -25), (218.32, -30), (218.71, -25), (219.1, -20), (219.48, -25),
       (219.87, -30), (220.26, -35), (220.65, -40), (221.03, -40), (221.23, -60), (221.42, -100), (221.62, -110), (221.81, -100),
       (222.0, -70), (222.2, -80), (222.39, -100), (222.59, -130), (222.78, -130), (222.97, -120), (223.17, -80), (223.36, -60),
       (223.55, -90), (223.75, -120), (223.94, -140), (224.14, -130), (224.33, -30), (224.52, -20), (224.72, -20), (224.91, -25),
       (225.11, -25), (225.3, -30), (225.49, -40), (225.69, -25), (225.88, -20), (226.08, -60), (226.27, -140), (226.46, -150),
       (226.66, -160), (226.85, -155), (227.04, -150), (227.24, -120), (227.43, -100), (227.63, -80), (227.82, -60), (228.01, -50),
       (228.21, -50), (228.4, -45), (228.6, -40), (228.79, -50), (228.98, -60), (229.18, -60), (229.37, -40), (229.56, -30),
       (229.76, -35), (229.95, -40), (230.15, -40), (230.34, -40), (230.53, -45), (230.73, -50), (230.92, -50), (231.12, -55),
       (231.31, -60), (231.5, -100), (231.7, -120), (231.89, -150), (232.09, -160), (232.28, -150), (232.47, -140), (232.67, -140),
       (232.86, -145), (233.05, -150), (233.25, -170), (233.44, -175), (233.64, -175), (233.83, -178), (234.02, -180), (234.41, -178),
       (234.8, -175), (235.19, -172), (235.38, -170), (235.57, -150), (235.77, -130), (235.96, -125), (236.16, -120), (236.35, -110),
       (236.54, -100), (236.74, -80), (236.93, -70), (237.13, -60), (237.32, -50), (237.51, -55), (237.71, -60), (237.9, -55),
       (238.1, -50), (238.29, -80), (238.48, -100), (238.68, -80), (238.87, -60), (239.06, -55), (239.26, -50), (239.45, -50),
       (239.65, -55), (239.84, -60), (240.03, -50), (240.23, -45), (240.42, -40), (240.62, -60), (240.81, -70), (241.0, -55),
       (241.2, -50), (241.39, -40), (241.58, -30), (241.78, -20), (241.97, -15), (242.17, -5), (242.55, 0), (242.94, 0), (243.33, -2),
       (243.72, 0), (243.91, -10), (244.11, -60), (244.3, -80), (244.49, -60), (244.69, -40), (244.88, -30), (245.07, -20),
       (245.27, -25), (245.46, -30), (245.66, -80), (245.85, -100), (246.04, -90), (246.24, -80), (246.43, -60), (246.63, -50),
       (246.82, -60), (247.01, -80), (247.21, -90), (247.4, -100), (247.6, -120), (247.79, -130), (247.98, -140), (248.18, -140),
       (248.37, -130), (248.56, -110), (248.76, -80), (248.95, -130), (249.15, -140), (249.34, -140), (249.53, -145), (249.73, -148),
       (249.92, -150), (250.12, -140), (250.31, -130), (250.5, -20), (250.7, -40), (250.89, -60), (251.08, -80), (251.28, -90),
       (251.47, -100), (251.67, -100), (251.86, -70), (252.05, -40), (252.25, -25), (252.44, -15), (252.64, -10), (252.83, -10),
       (253.02, -8), (253.22, -10), (253.41, -5), (253.61, -5), (253.8, 0), (253.99, 0), (254.38, 0), (254.77, 0), (255.16, 5),
       (255.35, 10), (255.54, -20), (255.74, -60), (255.93, -80), (256.13, -90), (256.32, -100), (256.51, -30), (256.71, -15),
       (256.9, -10), (257.1, -5), (257.48, 0), (257.87, 5), (258.26, 0), (258.45, -40), (258.64, -30), (258.84, -50), (259.03, -60),
       (259.11, -20)]

QSEN = [(213.7, 0), (213.86, 10), (214.06, 20), (214.25, 25), (214.44, 30), (214.64, 25), (214.83, 20), (215.0, 15), (215.22, 10),
        (215.41, 5), (215.61, 0), (215.8, -10), (215.99, -20), (216.19, -30), (216.38, -40), (216.58, -45), (216.77, -50),
        (216.96, -45), (217.16, -40), (217.35, -30), (217.54, -20), (217.74, -15), (217.93, -10), (218.32, -15), (218.71, -20),
        (219.1, -40), (219.29, -25), (219.48, -15), (219.87, -10), (220.26, -10), (220.65, -15), (221.03, -20), (221.42, -30),
        (221.62, -40), (221.81, -50), (222.0, -60), (222.2, -80), (222.39, -100), (222.5, -150), (222.59, -180), (222.78, -150),
        (222.97, -180), (223.17, -200), (223.36, -230), (223.55, -150), (223.75, -120), (223.94, -100), (224.14, -50), (224.33, -60),
        (224.52, -60), (224.72, -100), (224.91, -120), (225.11, -60), (225.3, -20), (225.49, -20), (225.69, -10), (225.88, 0),
        (226.0, -30), (226.08, -80), (226.27, -150), (226.46, -300), (226.66, -370), (226.85, -300), (227.04, -250), (227.24, -200),
        (227.43, -150), (227.63, -130), (227.82, -90), (228.01, -60), (228.21, -70), (228.4, -80), (228.6, -90), (228.79, -100),
        (228.98, -120), (229.18, -130), (229.37, -80), (229.56, -50), (229.76, -30), (229.95, -20), (230.34, -10), (230.73, -10),
        (231.12, -10), (231.31, -20), (231.5, -50), (231.6, -150), (231.7, -300), (231.81, -400), (231.97, -500), (232.05, -560),
        (232.15, -450), (232.2, -350), (232.35, -200), (232.47, -100), (232.67, -40), (232.86, -60), (232.98, -100), (233.1, -200),
        (233.25, -300), (233.44, -460), (233.64, -420), (233.83, -400), (234.02, -380), (234.22, -350), (234.41, -340), (234.61, -320),
        (234.8, -310), (234.99, -300), (235.19, -260), (235.38, -220), (235.57, -180), (235.77, -150), (235.96, -170), (236.16, -180),
        (236.35, -150), (236.54, -120), (236.74, -150), (236.93, -180), (237.13, -220), (237.32, -250), (237.51, -230), (237.71, -200),
        (237.9, -160), (238.1, -130), (238.29, -100), (238.48, -80), (238.68, -60), (238.87, -50), (239.06, -35), (239.26, -20),
        (239.45, -15), (239.65, -20), (239.84, -30), (240.03, -40), (240.23, -50), (240.42, -60), (240.62, -80), (240.81, -100),
        (241.0, -80), (241.2, -60), (241.39, -55), (241.58, -50), (241.78, -35), (241.97, -20), (242.17, 0), (242.36, 20),
        (242.55, 30), (242.75, 40), (242.94, 30), (243.14, 20), (243.33, 10), (243.52, 0), (243.72, -5), (243.91, -10), (244.11, -15),
        (244.3, -20), (244.49, -30), (244.69, -40), (244.88, -50), (245.07, -60), (245.27, -75), (245.46, -90), (245.66, -70),
        (245.85, -60), (246.04, -40), (246.24, -30), (246.43, -20), (246.63, -20), (246.82, -40), (247.01, -80), (247.21, -100),
        (247.4, -120), (247.6, -130), (247.79, -120), (247.98, -110), (248.18, -110), (248.37, -120), (248.56, -130), (248.76, -110),
        (248.95, -100), (249.15, -110), (249.34, -130), (249.53, -150), (249.73, -180), (249.92, -130), (250.12, -100), (250.31, -70),
        (250.5, -40), (250.7, -50), (250.89, -60), (251.08, -100), (251.28, -150), (251.47, -120), (251.67, -100), (251.86, -60),
        (252.05, -40), (252.25, -30), (252.44, -20), (252.64, -10), (252.83, 0), (253.02, 5), (253.22, 10), (253.61, 5), (253.99, 5),
        (254.38, 0), (254.77, 0), (255.16, 0), (255.54, 0), (255.93, -10), (256.13, -5), (256.32, 5), (256.71, 5), (257.1, 10),
        (257.48, 10), (257.87, 10), (258.26, 10), (258.64, 15), (258.84, 15), (259.03, 20), (259.11, 0)]

QLAT = [(213.7, 0), (214.06, 10), (214.44, 20), (214.83, 15), (215.22, 10), (215.61, 0), (215.99, -20), (216.38, -25), (216.77, -30),
        (217.16, -20), (217.54, -10), (217.93, -5), (218.71, -10), (219.48, -10), (220.26, -10), (221.03, -15), (221.62, -20),
        (222.0, -30), (222.39, -60), (222.59, -70), (222.78, -80), (223.17, -75), (223.36, -70), (223.75, -50), (224.14, -30),
        (224.52, -20), (224.72, -40), (224.91, -50), (225.3, -10), (225.88, 0), (226.08, -40), (226.27, -80), (226.46, -130),
        (226.66, -120), (226.85, -100), (227.24, -70), (227.63, -40), (228.01, -30), (228.4, -30), (228.79, -40), (229.18, -40),
        (229.56, -20), (229.95, -15), (230.34, -10), (231.12, -10), (231.5, -40), (231.7, -150), (231.89, -180), (232.09, -160),
        (232.28, -120), (232.47, -60), (232.67, -40), (232.98, -60), (233.25, -140), (233.44, -150), (233.64, -145), (233.83, -140),
        (234.02, -130), (234.41, -115), (234.8, -100), (235.19, -80), (235.57, -65), (235.96, -60), (236.35, -60), (236.74, -60),
        (236.93, -70), (237.13, -90), (237.32, -85), (237.71, -60), (238.1, -45), (238.48, -40), (238.87, -30), (239.26, -10),
        (239.65, -15), (240.03, -20), (240.42, -40), (240.81, -60), (241.2, -40), (241.58, -25), (241.97, -10), (242.36, 20),
        (242.75, 40), (243.14, 20), (243.52, 10), (243.91, 0), (244.3, -10), (244.69, -25), (245.07, -40), (245.46, -60),
        (245.85, -40), (246.24, -25), (246.63, -20), (247.01, -40), (247.4, -60), (247.79, -55), (248.18, -60), (248.56, -55),
        (248.95, -50), (249.34, -55), (249.73, -60), (250.12, -50), (250.5, -30), (250.89, -35), (251.28, -50), (251.67, -40),
        (252.05, -20), (252.44, -10), (252.83, 0), (253.41, 5), (254.19, 2), (254.96, 0), (255.54, 0), (255.93, -10), (256.32, 0),
        (257.1, 5), (257.87, 5), (258.64, 8), (259.11, 10)]

# ---------------- layout constants ----------------
LEFT = 124
FRAME_W = 782
RIGHT = 62
FIG_W = LEFT + FRAME_W + RIGHT
TICK = 5            # inward tick length, px
HALF_WIDTH = 0.13   # half base width of a drawn daily shortwave pulse, days


def xy(pairs):
    return [a for a, _ in pairs], [b for _, b in pairs]


def pulses(days, peaks, start, end):
    xs, ys = [start], [0]
    for d, v in zip(days, peaks):
        xs += [d + NOON - HALF_WIDTH, d + NOON, d + NOON + HALF_WIDTH]
        ys += [0, v, 0]
    xs.append(end)
    ys.append(0)
    return xs, ys


def style_axis(ax, ticks, labels):
    ax.ticker = FixedTicker(ticks=ticks)
    ax.major_tick_in = TICK
    ax.major_tick_out = 0
    ax.minor_tick_line_color = None
    ax.major_tick_line_color = "black"
    ax.axis_line_color = "black"
    ax.major_label_text_font = FONT
    ax.major_label_text_color = "black"
    ax.major_label_overrides = {t: l for t, l in zip(ticks, labels)}
    ax.major_label_text_font_size = "12px"


def header(height, letter, letter_right, letter_y, title, title_y):
    # frame spans the same columns as the panels below; text positions are relative to it
    h = figure(width=FIG_W, height=height, x_range=Range1d(0, 1), y_range=Range1d(0, 1),
               x_axis_type=None, y_axis_type=None, output_backend="svg", toolbar_location=None,
               min_border_left=LEFT, min_border_right=RIGHT, min_border_top=0, min_border_bottom=0,
               title_location=None)
    h.outline_line_color = None
    h.grid.visible = False
    h.add_layout(Label(x=letter_right, y=letter_y, x_units="screen", y_units="screen", text=letter,
                       text_font=FONT, text_font_size="27px", text_font_style="bold",
                       text_baseline="alphabetic", text_align="right"))
    h.add_layout(Label(x=FRAME_W / 2, y=title_y, x_units="screen", y_units="screen", text=title,
                       text_font=FONT, text_font_size="13px", text_baseline="middle", text_align="center"))
    return h


def panel(top, fh, bottom, yr, yticks, ylabels, ylabel, xmode, show_x, ygrid):
    p = figure(width=FIG_W, height=top + fh + bottom, x_range=Range1d(*X_RANGE), y_range=Range1d(*yr),
               output_backend="svg", toolbar_location=None, min_border_left=LEFT, min_border_right=RIGHT,
               min_border_top=top, min_border_bottom=bottom, title_location=None)
    p.outline_line_color = "black"
    p.outline_line_alpha = 1.0
    p.background_fill_color = "white"
    p.border_fill_color = "white"
    if xmode == "yearday":
        xt, xl = YEARDAY_TICKS, YEARDAY_LABELS
    else:
        xt, xl = DATE_TICKS, DATE_LABELS
    if show_x:
        style_axis(p.xaxis[0], xt, xl)
        p.xaxis[0].major_label_standoff = 8
    else:
        p.xaxis.visible = False
    style_axis(p.yaxis[0], yticks, ylabels)
    p.yaxis[0].major_label_standoff = 5
    p.yaxis[0].axis_label = ylabel
    p.yaxis[0].axis_label_text_font = FONT
    p.yaxis[0].axis_label_text_font_size = "12px"
    p.yaxis[0].axis_label_text_font_style = "normal"
    p.yaxis[0].axis_label_standoff = 5
    # inward box ticks on the unlabeled sides
    y0, y1 = yr
    dy = TICK * (y1 - y0) / fh
    dx = TICK * (X_RANGE[1] - X_RANGE[0]) / FRAME_W
    xs = [t for t in xt if X_RANGE[0] < t < X_RANGE[1]]
    p.segment(x0=xs, y0=[y1] * len(xs), x1=xs, y1=[y1 - dy] * len(xs), color="black", line_width=1)
    if not show_x:
        p.segment(x0=xs, y0=[y0] * len(xs), x1=xs, y1=[y0 + dy] * len(xs), color="black", line_width=1)
    ys = [v for v in yticks if y0 < v < y1]
    p.segment(x0=[X_RANGE[1]] * len(ys), y0=ys, x1=[X_RANGE[1] - dx] * len(ys), y1=ys, color="black", line_width=1)
    # grids
    if xmode == "date":
        p.xgrid.ticker = FixedTicker(ticks=DATE_TICKS)
        p.xgrid.grid_line_color = "black"
        p.xgrid.grid_line_dash = "1 3"
        p.xgrid.grid_line_alpha = 0.9
    else:
        p.xgrid.visible = False
    if ygrid:
        p.ygrid.ticker = FixedTicker(ticks=ygrid)
        p.ygrid.grid_line_color = "black"
        p.ygrid.grid_line_dash = "1 3"
        p.ygrid.grid_line_alpha = 0.9
    else:
        p.ygrid.visible = False
    return p


def add_legend(p, items, loc):
    lg = Legend(items=[LegendItem(label=lab, renderers=[r]) for lab, r in items], location=loc)
    lg.border_line_color = "black"
    lg.border_line_width = 1
    lg.border_line_alpha = 1.0
    lg.background_fill_alpha = 1.0
    lg.label_text_font = FONT
    lg.label_text_font_size = "12px"
    lg.glyph_width = 26
    lg.glyph_height = 12
    lg.label_height = 13
    lg.label_width = 28
    lg.label_standoff = 8
    lg.padding = 3
    lg.spacing = 2
    lg.margin = 6
    p.add_layout(lg)


def add_month_axis(p):
    ax = LinearAxis(ticker=FixedTicker(ticks=MONTH_POS),
                    major_label_overrides={t: l for t, l in zip(MONTH_POS, MONTH_LABELS)})
    ax.axis_line_color = None
    ax.major_tick_line_color = None
    ax.minor_tick_line_color = None
    ax.major_label_text_font = FONT
    ax.major_label_text_font_size = "12px"
    ax.major_label_standoff = 4
    p.add_layout(ax, "below")


def zero_line(p):
    p.add_layout(Span(location=0, dimension="width", line_color="black", line_width=1.5))


LW_ = 1.0
figs = [header(66, "A", 19, 31, TITLE_A, 8)]

# 1 WS
p = panel(6, 82, 22, (0, 30), [0, 10, 20, 30], ["0", "10", "20", "30"], "m/s", "yearday", True, None)
x, y = xy(WS)
r = p.line(x, y, color=BLUE, line_width=LW_)
add_legend(p, [("WS", r)], "top_left")
figs.append(p)

# 2 WD
p = panel(5, 82, 22, (-200, 200), [-200, -100, 0, 100, 200], ["-200", "", "0", "", "200"], "°E", "date", False,
          [-100, 0, 100])
x, y = xy(WD)
r = p.line(x, y, color=BLUE, line_width=LW_)
add_legend(p, [("WD", r)], "bottom_left")
figs.append(p)

# 3 TA / SST
p = panel(5, 82, 22, (-30, 10), [-30, -20, -10, 0, 10], ["-30", "-20", "-10", "0", "10"], "°C", "date", False,
          [-20, -10])
zero_line(p)
x, y = xy(TA)
r1 = p.line(x, y, color=BLUE, line_width=LW_)
x, y = xy(SST)
r2 = p.line(x, y, color=RED, line_width=LW_)
add_legend(p, [("TA", r1), ("SST", r2)], "bottom_left")
figs.append(p)

# 4 RH
p = panel(5, 82, 22, (50, 110), [50, 100], ["50", "100"], "%", "date", False, [100])
x, y = xy(RH)
r = p.line(x, y, color=BLUE, line_width=LW_)
add_legend(p, [("RH", r)], "bottom_left")
figs.append(p)

# 5 BP
p = panel(5, 81, 23, (960, 1020), [960, 980, 1000, 1020], ["960", "980", "1000", "1020"], "mBar", "date", False,
          [980, 1000])
x, y = xy(BP)
r = p.line(x, y, color=BLUE, line_width=LW_)
add_legend(p, [("BP", r)], "bottom_left")
figs.append(p)

# 6 SW / LW
p = panel(5, 81, 47, (0, 500), [0, 500], ["0", "500"], "W/m²", "date", True, None)
x, y = pulses(SW_DAYS, SW_PEAK, 212.0, 259.2)
r1 = p.line(x, y, color=BLUE, line_width=LW_)
x, y = xy(LW)
r2 = p.line(x, y, color=RED, line_width=LW_)
add_legend(p, [("SW", r1), ("LW", r2)], "bottom_left")
add_month_axis(p)
figs.append(p)

figs.append(header(33, "B", 22, 16, TITLE_B, 10))

# 7 Tau sticks
p = panel(4, 100, 24, (-0.82, 0.82), [-0.5, 0, 0.5], ["-0.5", "0", "0.5"], "N/m²", "yearday", True, None)
st = [s[0] for s in STICKS]
r = p.segment(x0=st, y0=[0] * len(st), x1=[s[1] for s in STICKS], y1=[s[2] for s in STICKS],
              color=BLUE, line_width=LW_)
p.segment(x0=[min(st)], y0=[0], x1=[max(st)], y1=[0], color=BLUE, line_width=1.5)
add_legend(p, [("Tau", r)], "top_left")
figs.append(p)

# 8 Tau
p = panel(8, 99, 26, (0, 1), [0, 0.5, 1], ["0", "0.5", "1"], "N/m²", "date", False, [0.5])
x, y = xy(TAU)
r = p.line(x, y, color=BLUE, line_width=LW_)
add_legend(p, [("Tau", r)], "top_left")
figs.append(p)

# 9 Qnet
p = panel(7, 99, 25, (-800, 400), [-800, -600, -400, -200, 0, 200, 400],
          ["-800", "-600", "-400", "-200", "0", "200", "400"], "W/m²", "date", False, [-600, -400, -200, 200])
zero_line(p)
x, y = xy(QNET)
r = p.line(x, y, color=BLUE, line_width=LW_)
add_legend(p, [("Qnet", r)], "bottom_left")
figs.append(p)

# 10 Qsw / Qlw
p = panel(7, 99, 26, (-200, 400), [-200, 0, 200, 400], ["-200", "0", "200", "400"], "W/m²", "date", False, [0, 200])
x, y = pulses(SW_DAYS, QSW_PEAK, 212.0, 259.2)
r1 = p.line(x, y, color=BLUE, line_width=LW_)
x, y = xy(QLW)
r2 = p.line(x, y, color=RED, line_width=LW_)
add_legend(p, [("Qsw", r1), ("Qlw", r2)], "top_left")
figs.append(p)

# 11 Qsen / Qlat
p = panel(7, 99, 52, (-600, 100), [-600, -400, -200, 0], ["-600", "-400", "-200", "0"], "W/m²", "date", True,
          [-400, -200, 0])
x, y = xy(QSEN)
r1 = p.line(x, y, color=BLUE, line_width=LW_)
x, y = xy(QLAT)
r2 = p.line(x, y, color=RED, line_width=1.5)
add_legend(p, [("Qsen", r1), ("Qlat", r2)], "bottom_left")
add_month_axis(p)
figs.append(p)

layout = column(*figs, spacing=0)
open("out.html", "w").write(file_html(layout, INLINE))
